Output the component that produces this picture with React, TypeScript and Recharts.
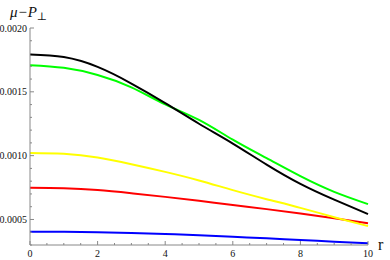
import React from "react";
import { LineChart, Line, XAxis, YAxis } from "recharts";

const rValues = [0, 1, 2, 3, 4, 5, 6, 7, 8, 9, 10];
const black = [0.001792, 0.001772, 0.001695, 0.001565, 0.001412, 0.00125, 0.001095, 0.00093, 0.000779, 0.000655, 0.000542];
const green = [0.001709, 0.001688, 0.001632, 0.001535, 0.001402, 0.00128, 0.001125, 0.00098, 0.000839, 0.000716, 0.00062];
const yellow = [0.001021, 0.001014, 0.000985, 0.000933, 0.000873, 0.000806, 0.00073, 0.000659, 0.000591, 0.000518, 0.000448];
const red = [0.000748, 0.000744, 0.00073, 0.000705, 0.000677, 0.000646, 0.000613, 0.000581, 0.000546, 0.000509, 0.00047];
const blue = [0.000404, 0.000403, 0.000399, 0.000394, 0.000386, 0.000377, 0.000365, 0.000352, 0.000339, 0.000326, 0.000313];

const xTicks = [0, 0.5, 1, 1.5, 2, 2.5, 3, 3.5, 4, 4.5, 5, 5.5, 6, 6.5, 7, 7.5, 8, 8.5, 9, 9.5, 10];
const xLabels = [0, 2, 4, 6, 8, 10];
const yTicks = [0.0003, 0.0004, 0.0005, 0.0006, 0.0007, 0.0008, 0.0009, 0.001, 0.0011, 0.0012, 0.0013, 0.0014, 0.0015, 0.0016, 0.0017, 0.0018, 0.0019, 0.002];
const yLabels = ["0.0005", "0.0010", "0.0015", "0.0020"];

const data = rValues.map((r, i) => ({
  r,
  black: black[i],
  green: green[i],
  yellow: yellow[i],
  red: red[i],
  blue: blue[i],
}));

const axisColor = "#888";
const font = "'Liberation Serif', 'DejaVu Serif', serif";

const XTick = (props: any) => {
  const { x, y, payload } = props;
  const major = xLabels.includes(payload.value);
  return (
    <g>
      <line x1={x} x2={x} y1={y} y2={y - (major ? 4 : 2)} stroke={axisColor} />
      {major && (
        <text x={x} y={y + 12} textAnchor="middle" fontSize={10} fontFamily={font} fill="#111">
          {payload.value}
        </text>
      )}
    </g>
  );
};

const YTick = (props: any) => {
  const { x, y, payload } = props;
  const label = payload.value.toFixed(4);
  const major = yLabels.includes(label);
  return (
    <g>
      <line x1={x} x2={x + (major ? 4 : 2)} y1={y} y2={y} stroke={axisColor} />
      {major && (
        <text x={x - 3} y={y + 3.5} textAnchor="end" fontSize={10} fontFamily={font} fill="#111">
          {label}
        </text>
      )}
    </g>
  );
};

export default function App() {
  const series = [
    { key: "blue", color: "#0000ff" },
    { key: "red", color: "#ff0000" },
    { key: "yellow", color: "#ffff00" },
    { key: "green", color: "#00ff00" },
    { key: "black", color: "#000000" },
  ];
  return (
    <div style={{ position: "fixed", left: 0, top: 0, width: 390, height: 260, background: "#fff" }}>
      <LineChart width={390} height={260} data={data} margin={{ top: 28, right: 22, bottom: 0, left: 0 }}>
        <XAxis
          dataKey="r"
          type="number"
          domain={[0, 10]}
          ticks={xTicks}
          interval={0}
          tickSize={0}
          tickMargin={0}
          tickLine={false}
          height={15}
          stroke={axisColor}
          tick={<XTick />}
        />
        <YAxis
          type="number"
          domain={[0.0003, 0.002]}
          ticks={yTicks}
          interval={0}
          tickSize={0}
          tickMargin={0}
          tickLine={false}
          width={30}
          stroke={axisColor}
          tick={<YTick />}
          allowDataOverflow
        />
        {series.map((s) => (
          <Line
            key={s.key}
            dataKey={s.key}
            type="natural"
            stroke={s.color}
            strokeWidth={2}
            dot={false}
            isAnimationActive={false}
          />
        ))}
        <text x={10} y={17} fontSize={15} fontFamily={font} fontStyle="italic" fill="#111">
          μ−P
          <tspan fontSize={11} dy={3} fontStyle="normal">⊥</tspan>
        </text>
        <text x={378} y={250} fontSize={16} fontFamily={font} fill="#111">
          r
        </text>
      </LineChart>
    </div>
  );
}
